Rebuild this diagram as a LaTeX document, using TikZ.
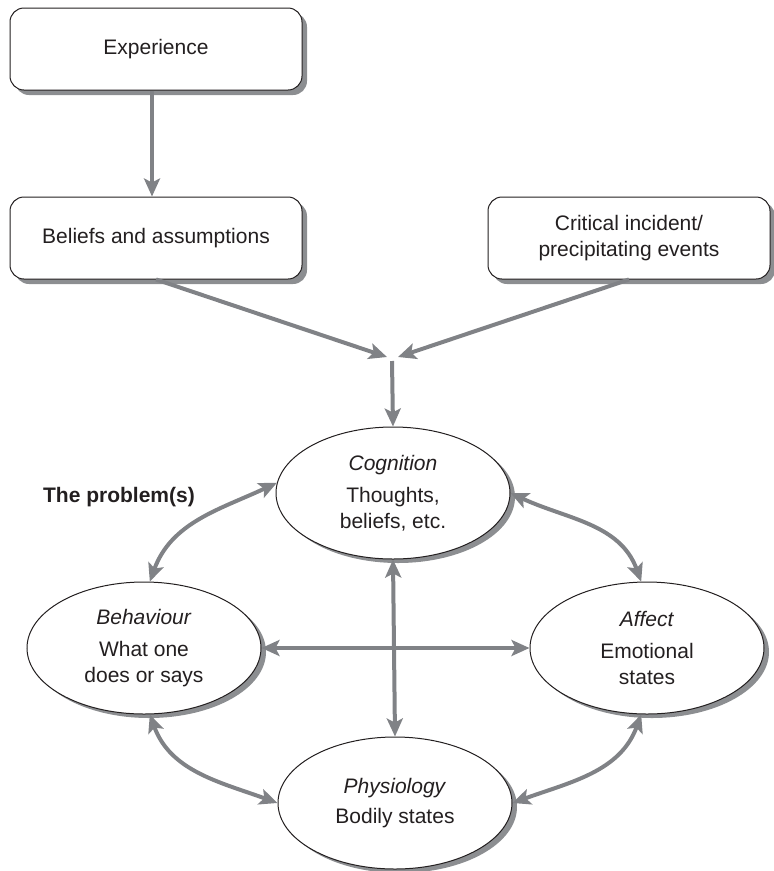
\documentclass[tikz,border=0pt]{standalone}
\usepackage{fontspec}
\setmainfont{Liberation Sans}
\usetikzlibrary{arrows.meta}
\usetikzlibrary{shapes.geometric}
\usetikzlibrary{shadows}
\usetikzlibrary{positioning}
\definecolor{arrowgray}{RGB}{128,130,134}
\definecolor{shadowgray}{RGB}{140,142,145}
\definecolor{inkblack}{RGB}{35,31,32}

\begin{document}
\begin{tikzpicture}[x=1pt,y=-1pt,font=\fontsize{21}{26}\selectfont,text=inkblack]
  \tikzstyle{box}=[draw=inkblack,line width=1pt,fill=white,rounded corners=14pt,
    minimum width=292pt,minimum height=82pt,inner sep=0pt,align=center,
    drop shadow={shadow xshift=5pt,shadow yshift=-5pt,fill=shadowgray,opacity=1}]
  \tikzstyle{blob}=[ellipse,draw=inkblack,line width=1pt,fill=white,
    minimum width=234pt,minimum height=132pt,inner sep=0pt,align=center,
    drop shadow={shadow xshift=5pt,shadow yshift=-4pt,fill=shadowgray,opacity=1}]
  \tikzstyle{link}=[draw=arrowgray,line width=4pt,-{Stealth[length=18pt,width=16pt,inset=4pt]}]
  \tikzstyle{both}=[link,{Stealth[length=18pt,width=16pt,inset=4pt]}-{Stealth[length=18pt,width=16pt,inset=4pt]}]
  \useasboundingbox (0,0) rectangle (774,871);

  % top boxes
  \node[box] (exp) at (156,49) {Experience};
  \node[box] (bel) at (156,238) {Beliefs and assumptions};
  \node[box,minimum width=282pt] (crit) at (629,238) {Critical incident/\\precipitating events};
  \coordinate (jl) at (387,357);
  \coordinate (jr) at (398,357);
  \coordinate (jb) at (392,361);

  % the four ellipses
  \node[blob] (cog) at (393,493) {\textit{Cognition}\\[6pt]Thoughts,\\beliefs, etc.};
  \node[blob] (beh) at (144,648) {\textit{Behaviour}\\[6pt]What one\\does or says};
  \node[blob] (aff) at (647,648) {\textit{Affect}\\[6pt]Emotional\\states};
  \node[blob] (phy) at (395,803) {\textit{Physiology}\\[4pt]Bodily states};
  \node[font=\fontsize{21}{26}\selectfont\bfseries] (prob) at (119,497) {The problem(s)};

  \draw[link] ([xshift=-4pt]exp.south) -- ([xshift=-4pt]bel.north);
  \draw[link] (bel.south) -- (jl);
  \draw[link] (crit.south) -- (jr);
  \draw[link] (jb) -- (cog.north);
  \foreach \a/\b/\o/\i in {cog.175/beh.85/205/70, cog.0/aff.95/-25/110,
                           beh.275/phy.west/-70/160, aff.265/phy.east/-110/20}
    \draw[both] (\a) to[out=\o,in=\i] (\b);
  \draw[both] (beh.east) -- (aff.west);
  \draw[both] (cog.south) -- (phy.north);
\end{tikzpicture}
\end{document}
